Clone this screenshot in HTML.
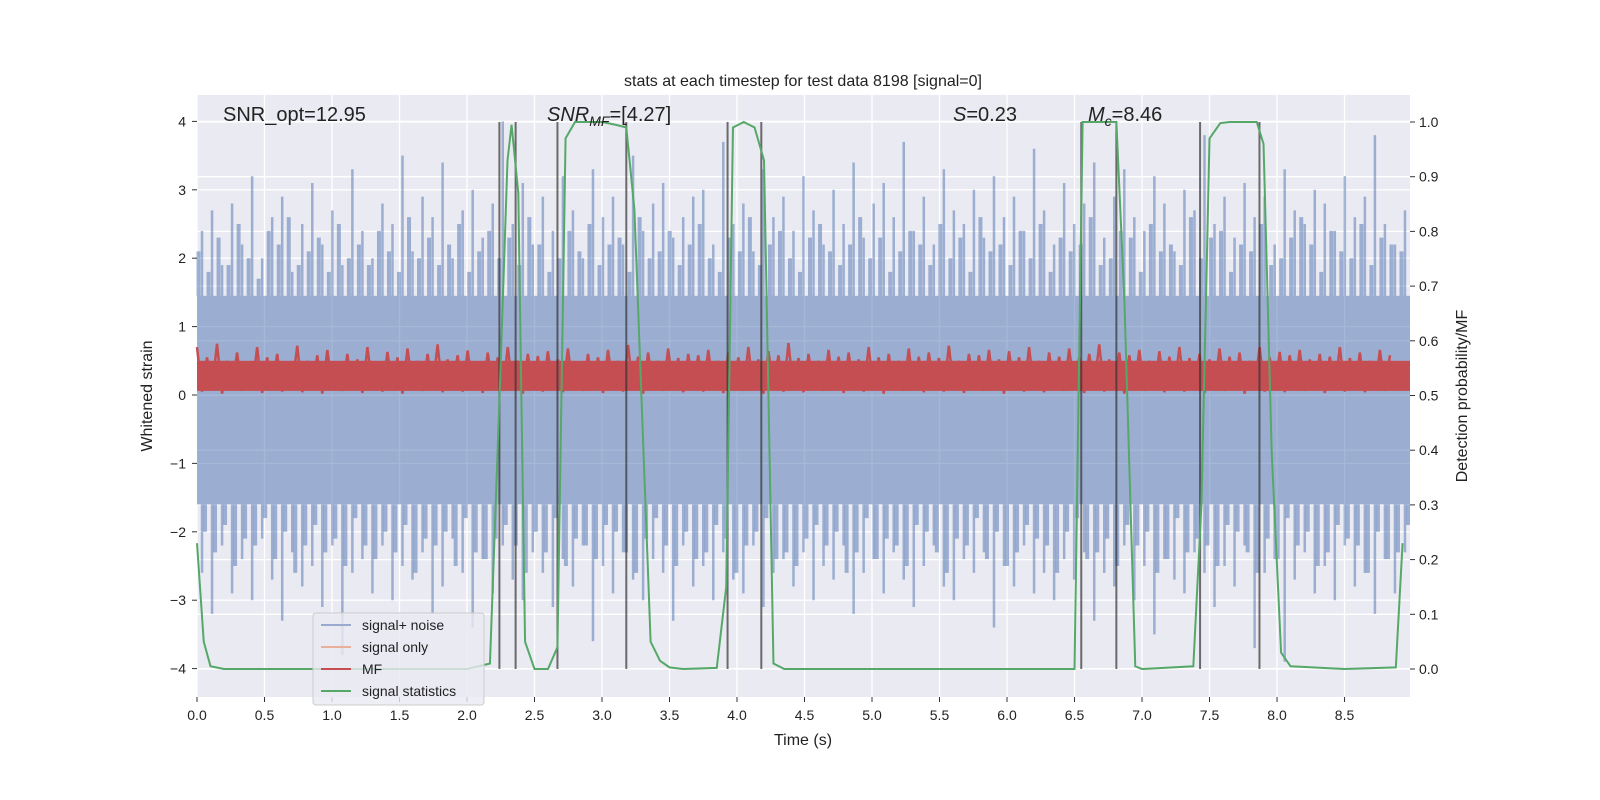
<!DOCTYPE html>
<html><head><meta charset="utf-8"><style>
body{margin:0;background:#fff;}
svg{display:block;font-family:"Liberation Sans","DejaVu Sans",sans-serif;}
</style></head><body>
<svg id="chart" width="1600" height="800" viewBox="0 0 1600 800" xmlns="http://www.w3.org/2000/svg">
<rect x="0" y="0" width="1600" height="800" fill="#fff"/>
<rect x="197" y="95" width="1213" height="602" fill="#eaeaf2"/>
<g id="grid"></g>
<g id="noise"></g>
<g id="mf"></g>
<g id="vlines"></g>
<g id="green"></g>
<g id="axes"></g>
<text x="803" y="86" font-size="16" text-anchor="middle" fill="#222">stats at each timestep for test data 8198 [signal=0]</text>
<text x="223" y="121" font-size="20" fill="#222">SNR_opt=12.95</text>
<text x="547" y="121" font-size="20" fill="#222"><tspan font-style="italic">SNR</tspan><tspan font-style="italic" font-size="14" dy="5">MF</tspan><tspan dy="-5">=[4.27]</tspan></text>
<text x="953" y="121" font-size="20" fill="#222"><tspan font-style="italic">S</tspan>=0.23</text>
<text x="1088" y="121" font-size="20" fill="#222"><tspan font-style="italic">M</tspan><tspan font-style="italic" font-size="14" dy="5">c</tspan><tspan dy="-5">=8.46</tspan></text>
<text x="803" y="745" font-size="16" text-anchor="middle" fill="#222">Time (s)</text>
<text transform="translate(152,396) rotate(-90)" font-size="16" text-anchor="middle" fill="#222">Whitened strain</text>
<text transform="translate(1467,396) rotate(-90)" font-size="16" text-anchor="middle" fill="#222">Detection probability/MF</text>
<g>
<rect x="313" y="613" width="171" height="92" rx="3" fill="#eaeaf2" fill-opacity="0.8" stroke="#ccc"/>
<g><line x1="321" y1="625" x2="351" y2="625" stroke="#9aaacf" stroke-width="2"/><text x="362" y="630" font-size="14" fill="#222">signal+ noise</text></g>
<g><line x1="321" y1="647" x2="351" y2="647" stroke="#e8b09a" stroke-width="2"/><text x="362" y="652" font-size="14" fill="#222">signal only</text></g>
<g><line x1="321" y1="669" x2="351" y2="669" stroke="#c44e52" stroke-width="2"/><text x="362" y="674" font-size="14" fill="#222">MF</text></g>
<g><line x1="321" y1="691" x2="351" y2="691" stroke="#55a868" stroke-width="2"/><text x="362" y="696" font-size="14" fill="#222">signal statistics</text></g>
</g>
</svg>
<script>
const xTicks=[0,0.5,1,1.5,2,2.5,3,3.5,4,4.5,5,5.5,6,6.5,7,7.5,8,8.5];
const yTicks=[-4,-3,-2,-1,0,1,2,3,4];
const y2Ticks=[0,0.1,0.2,0.3,0.4,0.5,0.6,0.7,0.8,0.9,1.0];
const noiseHigh=[2.4,2.7,1.9,2.8,2.2,3.2,2.0,2.6,2.9,1.8,2.5,3.1,2.2,2.7,1.9,3.3,2.4,2.0,2.8,2.5,3.5,2.1,2.9,2.6,3.4,2.0,2.7,3.0,2.3,2.8,4.0,2.5,3.1,2.2,2.9,2.4,3.2,2.7,2.0,3.3,2.6,2.9,2.2,3.5,2.4,2.8,3.1,2.3,2.6,2.9,3.0,2.2,3.7,2.5,2.8,2.1,3.3,2.6,2.9,2.4,3.2,2.7,2.2,3.0,2.5,3.4,2.3,2.8,3.1,2.6,3.7,2.4,2.9,2.2,3.3,2.7,2.5,3.0,2.3,3.2,2.6,2.9,2.4,3.6,2.7,2.2,3.1,2.5,2.8,3.4,2.3,2.9,3.3,2.6,2.4,3.2,2.8,2.1,3.0,2.7,3.8,2.5,2.9,2.3,3.1,2.6,2.9,2.2,3.3,2.7,2.5,3.0,2.8,2.4,3.2,2.6,2.9,3.8,2.5,2.2,2.7];
const noiseLow=[-2.6,-3.2,-2.2,-2.9,-2.4,-3.0,-2.1,-2.7,-3.3,-2.3,-2.8,-2.5,-3.1,-2.2,-3.8,-2.6,-2.4,-2.9,-2.2,-3.0,-2.5,-2.7,-2.3,-3.2,-2.8,-2.1,-2.6,-3.4,-2.4,-2.9,-2.2,-2.7,-3.0,-2.3,-2.6,-3.1,-2.4,-2.8,-2.2,-3.6,-2.5,-2.9,-2.3,-2.7,-3.0,-2.4,-2.6,-3.3,-2.2,-2.8,-2.5,-3.0,-2.3,-2.7,-2.9,-2.2,-3.1,-2.6,-2.4,-2.8,-2.3,-3.0,-2.5,-2.7,-2.2,-3.2,-2.6,-2.4,-2.9,-2.3,-2.7,-3.1,-2.5,-2.2,-2.8,-3.0,-2.4,-2.6,-2.3,-3.4,-2.5,-2.8,-2.2,-2.9,-2.6,-3.0,-2.4,-2.7,-2.3,-3.3,-2.6,-2.8,-2.2,-3.0,-2.5,-3.5,-2.4,-2.7,-2.9,-2.3,-2.6,-3.1,-2.5,-2.8,-2.2,-3.7,-2.6,-2.4,-3.9,-2.7,-2.3,-2.9,-2.5,-3.0,-2.2,-2.8,-2.6,-3.2,-2.4,-2.9,-2.3];
const noiseHigh2=[2.1,1.8,2.3,1.9,2.5,2.0,1.7,2.4,2.2,2.6,1.9,2.1,2.3,1.8,2.5,2.0,2.2,1.9,2.4,2.1,1.8,2.6,2.0,2.3,1.9,2.2,2.5,1.8,2.1,2.4,2.0,2.3,1.9,2.6,2.2,1.8,2.0,2.4,2.1,2.5,1.9,2.2,2.3,1.8,2.6,2.0,2.1,2.4,1.9,2.2,2.5,2.0,1.8,2.3,2.1,2.6,1.9,2.2,2.4,2.0,1.8,2.3,2.5,2.1,1.9,2.2,2.6,2.0,2.3,1.8,2.1,2.4,2.2,1.9,2.5,2.0,2.3,1.8,2.6,2.1,2.2,1.9,2.4,2.0,2.5,1.8,2.3,2.1,2.2,2.6,1.9,2.0,2.4,2.3,1.8,2.5,2.1,2.2,1.9,2.6,2.0,2.3,2.4,1.8,2.2,2.1,2.5,1.9,2.0,2.3,2.6,2.2,1.8,2.4,2.1,2.0,2.5,1.9,2.3,2.2,2.1];
const noiseLow2=[-2.0,-2.3,-1.9,-2.5,-2.1,-2.2,-1.8,-2.4,-2.0,-2.6,-2.2,-1.9,-2.3,-2.1,-2.5,-1.8,-2.2,-2.4,-2.0,-2.3,-1.9,-2.6,-2.1,-2.2,-2.0,-2.5,-1.8,-2.3,-2.4,-2.1,-1.9,-2.2,-2.6,-2.0,-2.3,-1.8,-2.5,-2.1,-2.2,-2.4,-1.9,-2.0,-2.3,-2.6,-2.1,-1.8,-2.2,-2.5,-2.0,-2.4,-2.3,-1.9,-2.1,-2.6,-2.2,-2.0,-1.8,-2.4,-2.3,-2.5,-2.1,-1.9,-2.2,-2.0,-2.6,-2.3,-1.8,-2.4,-2.1,-2.2,-2.5,-1.9,-2.0,-2.3,-2.6,-2.1,-2.2,-1.8,-2.4,-2.0,-2.5,-2.3,-1.9,-2.1,-2.2,-2.6,-2.0,-1.8,-2.4,-2.3,-2.1,-2.5,-1.9,-2.2,-2.0,-2.6,-2.4,-1.8,-2.3,-2.1,-2.2,-2.5,-1.9,-2.0,-2.3,-2.6,-2.1,-2.4,-1.8,-2.2,-2.0,-2.5,-2.3,-1.9,-2.1,-2.2,-2.6,-2.0,-2.4,-2.3,-1.9];
const mfHigh=[0.7,0.55,0.75,0.5,0.62,0.48,0.7,0.55,0.6,0.45,0.72,0.5,0.58,0.66,0.47,0.6,0.52,0.7,0.48,0.63,0.55,0.68,0.5,0.6,0.74,0.52,0.58,0.65,0.49,0.62,0.55,0.7,0.5,0.6,0.57,0.64,0.52,0.68,0.48,0.6,0.55,0.66,0.5,0.73,0.56,0.62,0.5,0.68,0.54,0.6,0.58,0.66,0.5,0.62,0.55,0.7,0.52,0.64,0.58,0.76,0.54,0.6,0.5,0.66,0.56,0.62,0.52,0.7,0.55,0.6,0.5,0.68,0.56,0.62,0.54,0.72,0.5,0.6,0.58,0.66,0.52,0.64,0.55,0.7,0.5,0.62,0.56,0.68,0.54,0.6,0.74,0.52,0.62,0.58,0.66,0.5,0.64,0.56,0.7,0.54,0.6,0.52,0.68,0.56,0.62,0.5,0.7,0.55,0.63,0.58,0.66,0.52,0.6,0.56,0.7,0.54,0.62,0.5,0.66,0.58,0.6];
const mfLow=[0.05,0.1,0.02,0.12,0.06,0.08,0.03,0.1,0.05,0.12,0.04,0.09,0.02,0.1,0.06,0.08,0.03,0.11,0.05,0.07,0.02,0.1,0.06,0.08,0.04,0.12,0.05,0.09,0.03,0.1,0.06,0.08,0.02,0.11,0.05,0.07,0.04,0.1,0.06,0.09,0.03,0.12,0.05,0.08,0.02,0.1,0.06,0.07,0.04,0.11,0.05,0.09,0.03,0.1,0.06,0.08,0.02,0.12,0.05,0.07,0.04,0.1,0.06,0.09,0.03,0.11,0.05,0.08,0.02,0.1,0.06,0.07,0.04,0.12,0.05,0.09,0.03,0.1,0.06,0.08,0.02,0.11,0.05,0.07,0.04,0.1,0.06,0.09,0.03,0.12,0.05,0.08,0.02,0.1,0.06,0.07,0.04,0.11,0.05,0.09,0.03,0.1,0.06,0.08,0.02,0.12,0.05,0.07,0.04,0.1,0.06,0.09,0.03,0.11,0.05,0.08,0.04,0.1,0.06];
const triggerTimes=[2.24,2.36,2.67,3.18,3.93,4.18,6.55,6.81,7.43,7.87];
const statT=[0,0.05,0.1,0.2,0.5,1.0,1.5,2.0,2.17,2.24,2.3,2.33,2.38,2.43,2.5,2.6,2.67,2.73,2.8,3.0,3.1,3.18,3.24,3.36,3.43,3.5,3.6,3.85,3.92,3.97,4.05,4.13,4.2,4.27,4.35,5.0,6.0,6.5,6.56,6.6,6.81,6.87,6.95,7.0,7.38,7.44,7.5,7.58,7.65,7.85,7.9,7.96,8.03,8.1,8.5,8.88,8.93];
const statP=[0.23,0.05,0.005,0,0,0,0,0,0.01,0.49,0.93,0.995,0.87,0.05,0,0,0.04,0.97,1.0,1.0,0.995,0.99,0.84,0.05,0.015,0.003,0,0.002,0.15,0.99,1.0,0.99,0.93,0.01,0,0,0,0,1.0,1.0,1.0,0.67,0.005,0,0.005,0.3,0.97,0.998,1.0,1.0,0.96,0.4,0.03,0.005,0,0.003,0.23];
const tMax=8.985;
const X0=197,X1=1410;
function xs(t){return X0+(X1-X0)*t/tMax;}
function ys(v){return 395-v*68.4;}
function y2s(p){return 669-p*547;}
const NS='http://www.w3.org/2000/svg';
function mk(tag,attrs,parent){const e=document.createElementNS(NS,tag);for(const k in attrs)e.setAttribute(k,attrs[k]);parent.appendChild(e);return e;}
const grid=document.getElementById('grid');
xTicks.forEach(t=>{const l=mk('line',{x1:xs(t),x2:xs(t),y1:95,y2:697,stroke:'#fff','stroke-width':1.3},grid);

});
yTicks.forEach(v=>{const l=mk('line',{x1:X0,x2:X1,y1:ys(v),y2:ys(v),stroke:'#fff','stroke-width':1.3},grid);

});
y2Ticks.forEach(p=>{const l=mk('line',{x1:X0,x2:X1,y1:y2s(p),y2:y2s(p),stroke:'#fff','stroke-width':1.3},grid);

});
const noise=document.getElementById('noise');
const band=mk('rect',{x:X0,y:ys(1.45),width:X1-X0,height:ys(-1.6)-ys(1.45),fill:'#4c72b0','fill-opacity':0.5},noise);


const n=noiseHigh.length;
for(let i=0;i<n;i++){const t=(i+0.5)*tMax/n;const t2=(i+0.15)*tMax/n;const t3=(i+0.8)*tMax/n;
 const l=mk('line',{x1:xs(t),x2:xs(t),y1:ys(noiseHigh[i]),y2:ys(1.45),stroke:'#4c72b0','stroke-opacity':0.5,'stroke-width':2.5},noise);
 
 
 const l2=mk('line',{x1:xs(t),x2:xs(t),y1:ys(-1.6),y2:ys(noiseLow[i]),stroke:'#4c72b0','stroke-opacity':0.5,'stroke-width':2.5},noise);
 
 
 const l3=mk('line',{x1:xs(t2),x2:xs(t2),y1:ys(noiseHigh2[i]),y2:ys(1.45),stroke:'#4c72b0','stroke-opacity':0.5,'stroke-width':4},noise);
 
 
 const l4=mk('line',{x1:xs(t3),x2:xs(t3),y1:ys(-1.6),y2:ys(noiseLow2[i]),stroke:'#4c72b0','stroke-opacity':0.5,'stroke-width':4},noise);
 
 }
const mf=document.getElementById('mf');
const mb=mk('rect',{x:X0,y:ys(0.5),width:X1-X0,height:ys(0.06)-ys(0.5),fill:'#c44e52'},mf);


let pts=[];const m=mfHigh.length;
for(let i=0;i<m;i++){const t0=i*tMax/m,t1=(i+0.5)*tMax/m;pts.push(xs(t0)+','+ys(mfHigh[i]));pts.push(xs(t1)+','+ys(mfLow[i]));}
const mp=mk('polyline',{points:pts.join(' '),fill:'none',stroke:'#c44e52','stroke-width':2.5},mf);


const vl=document.getElementById('vlines');
triggerTimes.forEach(t=>{const l=mk('line',{x1:xs(t),x2:xs(t),y1:y2s(1),y2:y2s(0),stroke:'#333','stroke-opacity':0.7,'stroke-width':2},vl);

});
const g=document.getElementById('green');
const gp=mk('polyline',{points:statT.map((t,i)=>xs(t)+','+y2s(statP[i])).join(' '),fill:'none',stroke:'#55a868','stroke-width':2},g);


const ax=document.getElementById('axes');
xTicks.forEach(t=>{mk('line',{x1:xs(t),x2:xs(t),y1:697,y2:702,stroke:'#333','stroke-width':1},ax);
 const tx=mk('text',{x:xs(t),y:720,'font-size':14,'text-anchor':'middle',fill:'#222'},ax);tx.textContent=t.toFixed(1);
 
 });
yTicks.forEach(v=>{mk('line',{x1:192,x2:197,y1:ys(v),y2:ys(v),stroke:'#333','stroke-width':1},ax);
 const tx=mk('text',{x:186,y:ys(v)+5,'font-size':14,'text-anchor':'end',fill:'#222'},ax);tx.textContent=v<0?'\u2212'+(-v):String(v);
 
 });
y2Ticks.forEach(p=>{mk('line',{x1:1410,x2:1415,y1:y2s(p),y2:y2s(p),stroke:'#333','stroke-width':1},ax);
 const tx=mk('text',{x:1419,y:y2s(p)+5,'font-size':14,fill:'#222'},ax);tx.textContent=p.toFixed(1);
 
 });
</script>
</body></html>
